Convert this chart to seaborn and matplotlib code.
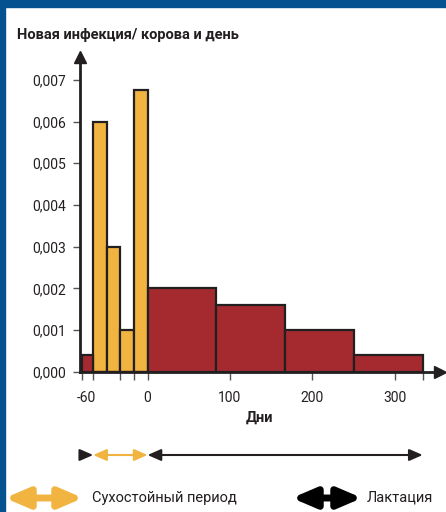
import pandas as pd
import seaborn as sns
import matplotlib.pyplot as plt
from matplotlib.patches import Rectangle

# days relative to calving (schematic bins as drawn in the figure)
bin_edges = [-80, -66, -49, -33, -16, 0, 83, 167, 250, 334]
rates = [0.0004, 0.006, 0.003, 0.001, 0.00675, 0.002, 0.0016, 0.001, 0.0004]
periods = ['Лактация', 'Сухостойный период', 'Сухостойный период', 'Сухостойный период',
           'Сухостойный период', 'Лактация', 'Лактация', 'Лактация', 'Лактация']

ytick_values = [0, 0.001, 0.002, 0.003, 0.004, 0.005, 0.006, 0.007]
ytick_labels = ['0,000', '0,001', '0,002', '0,003', '0,004', '0,005', '0,006', '0,007']
xtick_values = [-74, 0, 100, 200, 300]
xtick_labels = ['-60', '0', '100', '200', '300']
xminor_values = [-80, -66, -33, -16, 334]

title = 'Новая инфекция/ корова и день'
xlabel = 'Дни'

YELLOW = '#F2B440'
RED = '#A52A30'
DARK = '#231F20'
BLUE = '#04528F'
FONT = ['Roboto', 'DejaVu Sans']

sns.set_style('white')
plt.rcParams['font.family'] = FONT

mids = [(a + b) / 2 for a, b in zip(bin_edges[:-1], bin_edges[1:])]
df = pd.DataFrame({'day': mids, 'rate': rates, 'period': periods})

fig = plt.figure(figsize=(4.46, 5.12), dpi=100)
ax = fig.add_axes([80 / 446, (512 - 371.7) / 512, 360 / 446, 314.7 / 512])

sns.histplot(data=df, x='day', weights='rate', hue='period', bins=bin_edges,
             palette={'Сухостойный период': YELLOW, 'Лактация': RED},
             multiple='layer', alpha=1, edgecolor=DARK, linewidth=1.6,
             legend=False, ax=ax)

ax.set_xlim(-82, 355)
ax.set_ylim(0, 0.00755)

for s in ['top', 'right']:
    ax.spines[s].set_visible(False)
for s in ['left', 'bottom']:
    ax.spines[s].set_color(DARK)
    ax.spines[s].set_linewidth(2)
    ax.spines[s].set_zorder(5)

# arrow heads on the axes
ax.plot(0, 1, marker='^', ms=8, color=DARK, transform=ax.transAxes, clip_on=False, zorder=6)
ax.plot(1, 0, marker='>', ms=8, color=DARK, transform=ax.transAxes, clip_on=False, zorder=6)

ax.set_yticks(ytick_values)
ax.set_yticklabels(ytick_labels, fontsize=10, color=DARK)
ax.set_xticks(xtick_values)
ax.set_xticklabels(xtick_labels, fontsize=10, color=DARK)
ax.set_xticks(xminor_values, minor=True)
ax.tick_params(axis='y', which='both', direction='out', length=5, width=1,
               color='#555555', left=True, pad=5)
ax.tick_params(axis='x', which='both', direction='out', length=6, width=1,
               color='#555555', bottom=True, pad=8)
ax.xaxis.get_major_ticks()[0].tick1line.set_visible(False)

ax.set_ylabel('')
ax.set_xlabel(xlabel, fontsize=10.5, fontweight='bold', color=DARK, labelpad=4)

fig.text(17 / 446, 1 - 35 / 512, title, fontsize=10.5, fontweight='bold', color=DARK,
         va='center', ha='left')

# period arrows under the axis
y_arr = 1 - 455 / 512
small = dict(arrowstyle='-|>,head_length=0.8,head_width=0.35', color=DARK, lw=1.5,
             shrinkA=0, shrinkB=0, mutation_scale=10)
ax.annotate('', xy=(-66, y_arr), xytext=(-80, y_arr), xycoords=('data', 'figure fraction'),
            textcoords=('data', 'figure fraction'), arrowprops=small, annotation_clip=False)
dbl_y = dict(arrowstyle='<|-|>,head_length=0.8,head_width=0.35', color=YELLOW, lw=1.5,
             shrinkA=0, shrinkB=0, mutation_scale=10)
ax.annotate('', xy=(0, y_arr), xytext=(-66, y_arr), xycoords=('data', 'figure fraction'),
            textcoords=('data', 'figure fraction'), arrowprops=dbl_y, annotation_clip=False)
dbl_k = dict(arrowstyle='<|-|>,head_length=0.8,head_width=0.35', color=DARK, lw=1.5,
             shrinkA=0, shrinkB=0, mutation_scale=10)
ax.annotate('', xy=(334, y_arr), xytext=(0, y_arr), xycoords=('data', 'figure fraction'),
            textcoords=('data', 'figure fraction'), arrowprops=dbl_k, annotation_clip=False)

# legend arrows
big = '<|-|>,head_length=1.4,head_width=0.6'
fig.add_artist(plt.Annotation('', xy=(83, 14), xytext=(5, 14), xycoords='figure pixels',
                              textcoords='figure pixels',
                              arrowprops=dict(arrowstyle=big, color=YELLOW, lw=5,
                                              shrinkA=0, shrinkB=0, mutation_scale=10)))
fig.text(92 / 446, 14 / 512, 'Сухостойный период', fontsize=10.5, color=DARK, va='center')
fig.add_artist(plt.Annotation('', xy=(362, 14), xytext=(292, 14), xycoords='figure pixels',
                              textcoords='figure pixels',
                              arrowprops=dict(arrowstyle=big, color='black', lw=5,
                                              shrinkA=0, shrinkB=0, mutation_scale=10)))
fig.text(367 / 446, 14 / 512, 'Лактация', fontsize=10.5, color=DARK, va='center')

# blue frame
fig.add_artist(Rectangle((0, 1 - 7 / 512), 1, 7 / 512, transform=fig.transFigure,
                         color=BLUE, zorder=10))
fig.add_artist(Rectangle((0, 0), 5 / 446, 1, transform=fig.transFigure,
                         color=BLUE, zorder=10))

fig.savefig('out.png', dpi=100)
